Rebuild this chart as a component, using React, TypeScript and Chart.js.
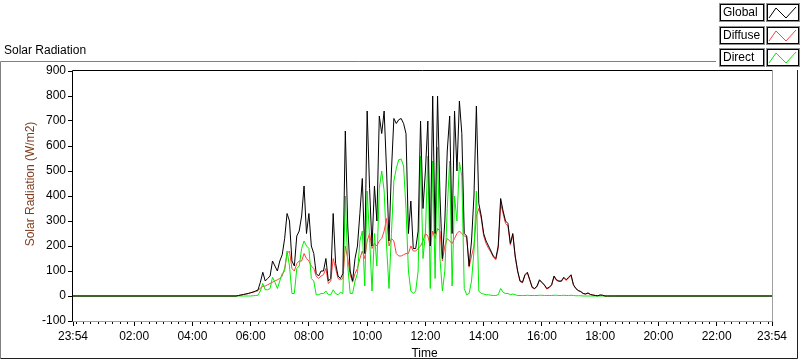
import React, { useEffect, useRef } from 'react';
import { Chart, registerables } from 'chart.js';

Chart.register(...registerables);

// ---- data ----
// x axis is minutes of the day; the graph runs from 23:54 (previous day) to 23:54
const AXIS_MIN = -6;
const AXIS_MAX = 1434;
const majorTickValues = [-6, 120, 240, 360, 480, 600, 720, 840, 960, 1080, 1200, 1320, 1434];
const tickLabels = ['23:54', '02:00', '04:00', '06:00', '08:00', '10:00', '12:00', '14:00', '16:00', '18:00', '20:00', '22:00', '23:54'];
const minorTickStep = 15;

// samples every 5 minutes from 05:30 to 18:30
const sampleStart = 330;
const sampleStep = 5;

const globalVals = [
  0, 2, 4, 6, 8, 10, 13, 16, 20, 24,
  55, 95, 60, 70, 80, 140, 120, 100, 140, 165,
  230, 330, 300, 140, 120, 240, 260, 320, 440, 250,
  330, 200, 170, 90, 80, 100, 100, 150, 60, 70,
  330, 130, 80, 70, 90, 660, 280, 100, 60, 150,
  200, 330, 470, 170, 740, 430, 200, 440, 300, 720,
  650, 740, 500, 220, 500, 710, 690, 705, 710, 690,
  650, 250, 380, 190, 190, 260, 700, 350, 500, 700,
  200, 800, 250, 800, 400, 150, 300, 580, 720, 250,
  740, 500, 780, 650, 250, 240, 120, 220, 400, 760,
  370, 320, 250, 220, 200, 180, 160, 150, 200, 390,
  340, 300, 290, 210, 250, 160, 100, 60, 55, 85,
  95, 65, 35, 30, 40, 65, 55, 45, 30, 35,
  45, 80, 65, 60, 60, 75, 65, 75, 85, 45,
  30, 22, 18, 10, 8, 12, 6, 4, 2, 1,
  4, 3, 0, 0, 0, 0, 0,
];

const diffuseVals = [
  0, 2, 4, 6, 8, 10, 13, 15, 18, 21,
  32, 38, 40, 45, 50, 55, 60, 65, 70, 80,
  110, 170, 180, 110, 100, 130, 140, 140, 170, 150,
  140, 120, 110, 80, 70, 80, 85, 110, 50, 60,
  150, 110, 70, 65, 70, 200, 150, 85, 55, 90,
  110, 150, 180, 150, 220, 250, 190, 210, 200, 220,
  230, 260, 310, 200, 230, 220, 170, 160, 160, 165,
  170, 170, 200, 180, 180, 190, 200, 220, 250, 240,
  200, 260, 230, 270, 260, 140, 200, 230, 220, 210,
  230, 250, 260, 250, 240, 235, 115, 160, 200, 320,
  350, 310, 240, 210, 190, 175, 155, 145, 190, 370,
  330, 290, 280, 205, 245, 155, 98, 58, 53, 82,
  92, 63, 33, 28, 38, 62, 52, 43, 28, 33,
  43, 77, 62, 58, 58, 72, 62, 72, 82, 43,
  29, 21, 17, 10, 8, 12, 6, 4, 2, 1,
  4, 3, 0, 0, 0, 0, 0,
];

const directVals = [
  0, 0, 0, 0, 0, 0, 0, 1, 2, 3,
  20, 50, 25, 25, 30, 75, 55, 30, 60, 90,
  100, 180, 120, 10, 10, 110, 120, 190, 220, 200,
  190, 70, 60, 5, 5, 10, 10, 20, 5, 5,
  25, 10, 5, 15, 10, 400, 120, 10, 10, 60,
  90, 220, 260, 40, 420, 230, 20, 250, 120, 430,
  500, 420, 200, 30, 250, 460, 510, 545, 548, 520,
  350, 100, 20, 10, 20, 100, 560, 150, 250, 560,
  30, 540, 70, 595, 150, 20, 100, 350, 540, 40,
  400, 300, 535, 480, 30, 5, 10, 60, 180, 420,
  20, 10, 8, 5, 5, 3, 2, 2, 5, 30,
  15, 10, 10, 5, 8, 5, 2, 2, 2, 2,
  3, 2, 2, 2, 2, 3, 3, 2, 2, 2,
  2, 3, 3, 2, 2, 3, 2, 2, 3, 2,
  1, 1, 1, 0, 0, 0, 0, 0, 0, 0,
  0, 0, 0, 0, 0, 0, 0,
];

const seriesNames = ['Global', 'Diffuse', 'Direct'];
const seriesColors = ['#000000', '#ff4040', '#00ee00'];

const FONT = "'Liberation Sans', Arial, sans-serif";

function toPoints(vals: number[]) {
  const pts: { x: number; y: number }[] = [{ x: AXIS_MIN, y: 0 }];
  vals.forEach((v, i) => pts.push({ x: sampleStart + i * sampleStep, y: v }));
  pts.push({ x: AXIS_MAX, y: 0 });
  return pts;
}

const decorPlugin = {
  id: 'labviewDecor',
  beforeDraw(chart: any) {
    const { ctx, width, height } = chart;
    ctx.save();
    ctx.fillStyle = '#ffffff';
    ctx.fillRect(0, 0, width, height);
    ctx.restore();
  },
  afterDraw(chart: any) {
    const { ctx, chartArea } = chart;
    const xs = chart.scales.x;
    const { left, right, top, bottom } = chartArea;
    ctx.save();
    ctx.lineWidth = 1;

    // minor ticks on the time axis
    ctx.strokeStyle = '#000';
    ctx.beginPath();
    for (let m = 0; m < AXIS_MAX; m += minorTickStep) {
      if (majorTickValues.includes(m)) continue;
      const px = Math.round(xs.getPixelForValue(m)) + 0.5;
      ctx.moveTo(px, bottom);
      ctx.lineTo(px, bottom + 3);
    }
    ctx.stroke();

    // plot area border (sunken)
    ctx.strokeStyle = '#000';
    ctx.beginPath();
    ctx.moveTo(Math.round(left) - 0.5, Math.round(bottom) + 0.5);
    ctx.lineTo(Math.round(left) - 0.5, Math.round(top) - 0.5);
    ctx.lineTo(Math.round(right) + 0.5, Math.round(top) - 0.5);
    ctx.stroke();
    ctx.strokeStyle = '#a0a0a0';
    ctx.beginPath();
    ctx.moveTo(Math.round(right) + 0.5, Math.round(top) - 0.5);
    ctx.lineTo(Math.round(right) + 0.5, Math.round(bottom) + 0.5);
    ctx.lineTo(Math.round(left) - 0.5, Math.round(bottom) + 0.5);
    ctx.stroke();

    // outer frame
    ctx.strokeStyle = '#808080';
    ctx.beginPath();
    ctx.moveTo(0.5, 358.5);
    ctx.lineTo(0.5, 61.5);
    ctx.lineTo(716, 61.5);
    ctx.stroke();
    ctx.strokeStyle = '#202020';
    ctx.beginPath();
    ctx.moveTo(0.5, 358.5);
    ctx.lineTo(797.5, 358.5);
    ctx.lineTo(797.5, 70);
    ctx.stroke();

    // legend panel
    ctx.fillStyle = '#ffffff';
    ctx.fillRect(716, 0, 84, 70);
    const rowsY = [4, 27, 49];
    seriesNames.forEach((name, i) => {
      const y0 = rowsY[i];
      const h = 17;
      // label box
      ctx.strokeStyle = '#909090';
      ctx.strokeRect(719.5, y0 - 0.5, 45, h + 1);
      ctx.strokeStyle = '#000';
      ctx.strokeRect(720.5, y0 + 0.5, 43, h - 1);
      ctx.fillStyle = '#000';
      ctx.font = `12px ${FONT}`;
      ctx.textAlign = 'left';
      ctx.textBaseline = 'middle';
      ctx.fillText(name, 723, y0 + h / 2 + 0.5);
      // sample box
      ctx.strokeStyle = '#909090';
      ctx.strokeRect(766.5, y0 - 0.5, 33, h + 1);
      ctx.strokeStyle = '#000';
      ctx.strokeRect(767.5, y0 + 0.5, 31, h - 1);
      ctx.strokeStyle = seriesColors[i];
      ctx.beginPath();
      ctx.moveTo(769, y0 + 14);
      ctx.lineTo(776, y0 + 4);
      ctx.lineTo(786, y0 + 14);
      ctx.lineTo(796, y0 + 3);
      ctx.stroke();
    });

    // titles
    ctx.fillStyle = '#000';
    ctx.font = `12px ${FONT}`;
    ctx.textAlign = 'left';
    ctx.textBaseline = 'middle';
    ctx.fillText('Solar Radiation', 4, 51);
    ctx.textAlign = 'center';
    ctx.fillText('Time', (left + right) / 2 + 2, 354);

    ctx.save();
    ctx.translate(31, 184);
    ctx.rotate(-Math.PI / 2);
    ctx.fillStyle = '#803c1c';
    ctx.textAlign = 'center';
    ctx.textBaseline = 'middle';
    ctx.fillText('Solar Radiation (W/m2)', 0, 0);
    ctx.restore();

    ctx.restore();
  },
};

export default function App() {
  const canvasRef = useRef<HTMLCanvasElement | null>(null);

  useEffect(() => {
    if (!canvasRef.current) return;
    Chart.defaults.font.family = FONT;
    Chart.defaults.font.size = 12;
    Chart.defaults.color = '#000';
    const valueSets = [globalVals, diffuseVals, directVals];
    const drawOrder = [0, 2, 1];
    const chart = new Chart(canvasRef.current, {
      type: 'line',
      data: {
        datasets: seriesNames.map((name, i) => ({
          label: name,
          data: toPoints(valueSets[i]),
          borderColor: seriesColors[i],
          backgroundColor: seriesColors[i],
          borderWidth: 1,
          pointRadius: 0,
          tension: 0,
          fill: false,
          order: drawOrder[i],
        })),
      },
      options: {
        responsive: false,
        animation: false,
        events: [],
        layout: { padding: { left: 0, right: 28, top: 71, bottom: 0 } },
        plugins: {
          legend: { display: false },
          tooltip: { enabled: false },
          title: { display: false },
        },
        scales: {
          x: {
            type: 'linear',
            min: AXIS_MIN,
            max: AXIS_MAX,
            afterBuildTicks: (scale: any) => {
              scale.ticks = majorTickValues.map((v) => ({ value: v }));
            },
            afterFit: (scale: any) => {
              scale.height = 40;
            },
            ticks: {
              autoSkip: false,
              maxRotation: 0,
              minRotation: 0,
              padding: 3,
              color: '#000',
              font: { family: FONT, size: 12 },
              callback: (_v: any, index: number) => tickLabels[index],
            },
            grid: {
              display: true,
              drawOnChartArea: false,
              drawTicks: true,
              tickLength: 5,
              color: '#000',
            },
            border: { display: false },
          },
          y: {
            type: 'linear',
            min: -100,
            max: 900,
            afterFit: (scale: any) => {
              scale.width = 73;
            },
            ticks: {
              stepSize: 100,
              padding: 2,
              color: '#000',
              font: { family: FONT, size: 12 },
            },
            grid: {
              display: true,
              drawOnChartArea: false,
              drawTicks: true,
              tickLength: 5,
              color: '#000',
            },
            border: { display: false },
          },
        },
      },
      plugins: [decorPlugin],
    } as any);
    return () => chart.destroy();
  }, []);

  return (
    <div style={{ position: 'absolute', left: 0, top: 0, width: 800, height: 361, background: '#fff' }}>
      <canvas ref={canvasRef} width={800} height={361} style={{ display: 'block' }} />
    </div>
  );
}
